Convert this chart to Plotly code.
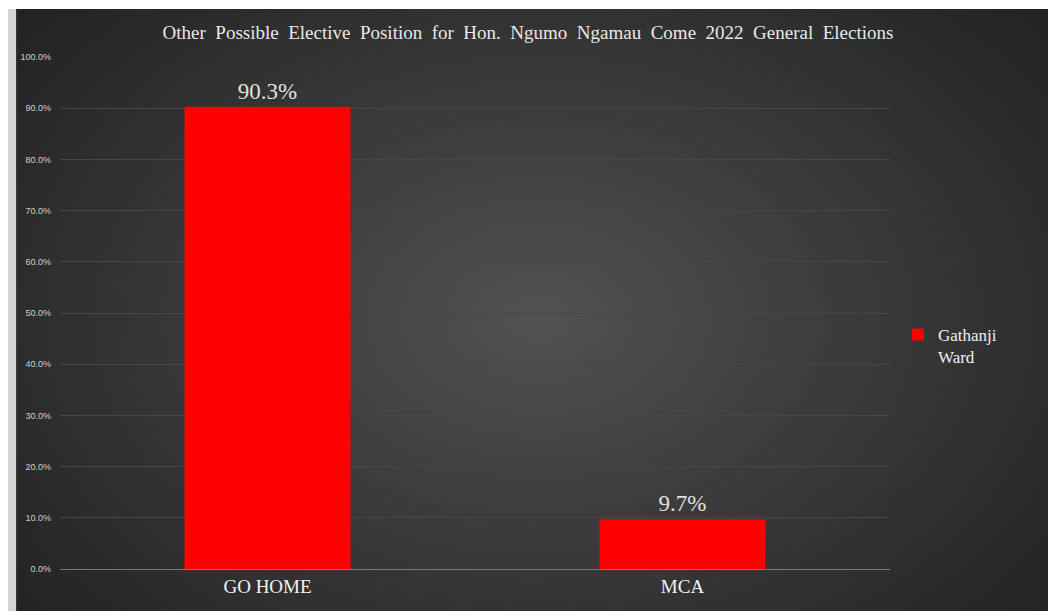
import plotly.graph_objects as go

categories = ["GO HOME", "MCA"]
values = [90.3, 9.7]
series_name = "Gathanji<br>Ward"
title_text = "Other Possible Elective Position for Hon. Ngumo Ngamau Come 2022 General Elections"

OFF = 8  # page body margin
W, H = 1040, 603
L, R, T, B = 50, 882, 49, 561  # plot area in figure px

def px(x):
    return (x - L) / (R - L)

def py(y):
    return (B - y) / (B - T)

shapes = []
# radial gradient background (stack of ellipses, outer dark to inner light)
cx, cy = 530, 310
rx, ry = 720, 500
edge = (0x21, 0x21, 0x21)
center = (0x52, 0x52, 0x52)
N = 90
for i in range(N):
    f = 1 - i / N
    t = (1 - f) ** 1.1
    c = tuple(int(round(edge[k] + (center[k] - edge[k]) * t)) for k in range(3))
    shapes.append(dict(type="circle", xref="paper", yref="paper", layer="below",
                       x0=px(cx - rx * f), x1=px(cx + rx * f),
                       y0=py(cy + ry * f), y1=py(cy - ry * f),
                       fillcolor="rgb(%d,%d,%d)" % c, line=dict(width=0)))
# white top strip, grey left strip
shapes.append(dict(type="rect", xref="paper", yref="paper", layer="below",
                   x0=px(-5), x1=px(W + 5), y0=py(1), y1=py(-5),
                   fillcolor="white", line=dict(width=0)))
shapes.append(dict(type="rect", xref="paper", yref="paper", layer="below",
                   x0=px(-5), x1=px(6), y0=py(H + 5), y1=py(1),
                   fillcolor="#d4d4d4", line=dict(width=0)))

fig = go.Figure()
fig.add_trace(go.Bar(
    x=categories, y=values, name=series_name,
    marker=dict(color="#ff0000", line=dict(width=0)),
    texttemplate="%{y:.1f}%", textposition="outside",
    textfont=dict(family="Liberation Serif", size=23, color="#e0e0e0"),
    cliponaxis=False, showlegend=True,
))

fig.update_layout(
    width=W, height=H,
    margin=dict(l=L, r=W - R, t=T, b=H - B, pad=0),
    paper_bgcolor="#262626",
    plot_bgcolor="rgba(0,0,0,0)",
    shapes=shapes,
    bargap=0.6,
    title=dict(text=title_text.replace(" ", "\u00a0 "), x=(528 - OFF) / W, xref="container",
               y=1 - (32 - OFF) / H, yref="container", xanchor="center", yanchor="middle",
               font=dict(family="Liberation Serif", size=19, color="#e8e8e8")),
    xaxis=dict(showgrid=False, showline=True, linecolor="#7a7a7a", linewidth=1,
               ticks="", tickfont=dict(family="Liberation Serif", size=19, color="#f2f2f2"),
               zeroline=False, fixedrange=True),
    yaxis=dict(range=[0, 100], dtick=10, tickformat=".1f", ticksuffix="%",
               showgrid=True, gridcolor="#474747", gridwidth=1,
               showline=False, zeroline=False, ticks="",
               tickfont=dict(family="Liberation Sans", size=9, color="#d0d0d0"),
               ticklabelstandoff=8),
    legend=dict(x=px(890), y=py(309), xanchor="left", yanchor="top",
                bgcolor="rgba(0,0,0,0)", valign="top",
                font=dict(family="Liberation Serif", size=17, color="#f0f0f0"),
                itemwidth=30, tracegroupgap=0),
)

fig.write_html("out.html")
